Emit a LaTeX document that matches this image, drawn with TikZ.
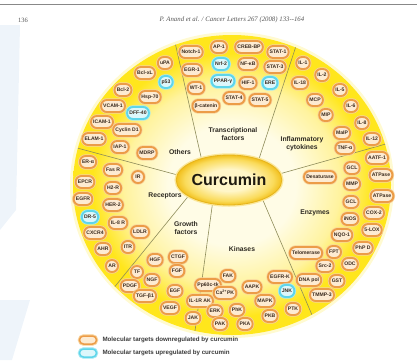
\documentclass[tikz,border=0pt]{standalone}
\usepackage{fontspec}
\setmainfont{Liberation Sans}
\newfontfamily\serffam{Liberation Serif}
\usetikzlibrary{shapes.geometric}
\definecolor{pillring}{HTML}{EC9C48}
\definecolor{pillglow}{HTML}{F8D49E}
\definecolor{pillin}{HTML}{FDEBD2}
\definecolor{cyanring}{HTML}{5ED5EA}
\definecolor{cyanglow}{HTML}{A8EAF4}
\definecolor{cyanin}{HTML}{DDF7FB}
\definecolor{pilltext}{HTML}{3A2A1E}
\definecolor{diskc}{HTML}{FFFCE6}
\definecolor{diskm}{HTML}{FFF39E}
\definecolor{diskr}{HTML}{FFE61C}
\definecolor{curc}{HTML}{FFF6C8}
\definecolor{curm}{HTML}{FADB5A}
\definecolor{curr}{HTML}{F2C01E}
\definecolor{curedge}{HTML}{E6B41C}
\definecolor{curglow}{HTML}{FBE79A}
\definecolor{curtext}{HTML}{1E1A10}
\definecolor{divline}{HTML}{8E8C5A}
\definecolor{labtext}{HTML}{2E2A22}
\definecolor{legtext}{HTML}{3A3A3A}
\definecolor{headtext}{HTML}{555555}
\definecolor{bgblue}{HTML}{EEF4FA}
\pgfdeclareradialshading{bigdisk}{\pgfpoint{0bp}{0bp}}{color(0bp)=(diskc); color(10bp)=(diskc); color(17bp)=(diskm); color(22bp)=(diskr); color(25bp)=(diskr); color(50bp)=(diskr)}
\pgfdeclareradialshading{curdisk}{\pgfpoint{0bp}{0bp}}{color(0bp)=(curc); color(11bp)=(curc); color(21bp)=(curm); color(25bp)=(curr); color(50bp)=(curr)}
\begin{document}
\begin{tikzpicture}[x=1pt,y=-1pt,
  pillbase/.style={rectangle, rounded corners=5.8pt, minimum height=12pt, minimum width=12pt,
    inner xsep=2.2pt, inner ysep=0pt, text height=3.7pt, text depth=0.3pt,
    font=\bfseries\fontsize{5.1}{5.5}\selectfont, text=pilltext},
  pill/.style={pillbase, fill=pillin, draw=pillring, line width=1.9pt,
    preaction={draw=pillglow, line width=3.4pt}},
  upill/.style={pillbase, fill=cyanin, draw=cyanring, line width=1.9pt,
    preaction={draw=cyanglow, line width=3.4pt}},
  seclabel/.style={font=\bfseries\fontsize{6.8}{7.8}\selectfont, align=center, text=labtext},
  divider/.style={draw=divline, line width=0.6pt}]
\useasboundingbox (0,0) rectangle (417,360);
% faint background watermark
\fill[bgblue] (0,25) -- (20,25) -- (16,210) -- (0,230) -- cycle;
\fill[bgblue] (0,300) -- (30,300) -- (12,360) -- (0,360) -- cycle;
% header
\coordinate (tl) at (0,4);
\coordinate (tr) at (417,4);
\draw[headtext!70, line width=0.8pt] (tl) -- (tr);
\node[font=\serffam\fontsize{6.5}{7}\selectfont, text=headtext] (pgno) at (23,20) {136};
\node[font=\serffam\itshape\fontsize{6.8}{7.5}\selectfont, text=headtext] (runhead) at (232,20) {P. Anand et al. / Cancer Letters 267 (2008) 133--164};
% big disk
\fill[diskr!40, opacity=0.5] (232,185) ellipse [x radius=162pt, y radius=153pt];
\shade[shading=bigdisk] (232,185) ellipse [x radius=159pt, y radius=150pt];
% dividers
\coordinate (a1) at (204,170); \coordinate (b1) at (174,38);
\coordinate (a2) at (256,168); \coordinate (b2) at (298,40);
\coordinate (a3) at (265,178); \coordinate (b3) at (400,140);
\coordinate (a4) at (262,198); \coordinate (b4) at (321,336);
\coordinate (a5) at (213,200); \coordinate (b5) at (194,338);
\coordinate (a6) at (195,188); \coordinate (b6) at (108,295);
\coordinate (a7) at (200,181); \coordinate (b7) at (66,145);
\begin{scope}
\clip (232,185) ellipse [x radius=159pt, y radius=150pt];
\draw[divider] (a1) -- (b1);
\draw[divider] (a2) -- (b2);
\draw[divider] (a3) -- (b3);
\draw[divider] (a4) -- (b4);
\draw[divider] (a5) -- (b5);
\draw[divider] (a6) -- (b6);
\draw[divider] (a7) -- (b7);
\end{scope}
% Curcumin
\node[ellipse, minimum width=88pt, minimum height=50pt, shade, shading=curdisk, draw=curedge,
  line width=0.8pt, inner sep=0pt, preaction={draw=curglow, line width=3.5pt},
  font=\bfseries\fontsize{16}{18}\selectfont, text=curtext] (cur) at (229,180) {Curcumin};
% sector labels
\node[seclabel] (labothers) at (180,152) {Others};
\node[seclabel] (labtf) at (233,134) {Transcriptional\\factors};
\node[seclabel] (labinf) at (302,144) {Inflammatory\\cytokines};
\node[seclabel] (labenz) at (315,213) {Enzymes};
\node[seclabel] (labkin) at (242,249) {Kinases};
\node[seclabel] (labgf) at (186,228) {Growth\\factors};
\node[seclabel] (labrec) at (165,196) {Receptors};
% Others
\node[pill] (upa) at (165,63) {uPA};
\node[pill] (bclxl) at (145,73) {Bcl-xL};
\node[upill] (p53) at (166,82) {p53};
\node[pill] (bcl2) at (123,90) {Bcl-2};
\node[pill] (hsp70) at (150,97) {Hsp-70};
\node[pill] (vcam) at (113,106) {VCAM-1};
\node[upill] (dff) at (138,113) {DFF-40};
\node[pill] (icam) at (102,122) {ICAM-1};
\node[pill] (cycd) at (127,130) {Cyclin D1};
\node[pill] (elam) at (94,139) {ELAM-1};
\node[pill] (iap) at (120,147) {IAP-1};
\node[pill] (mdrp) at (147,153) {MDRP};
% Transcriptional factors
\node[pill] (notch) at (191,52) {Notch-1};
\node[pill] (ap1) at (219,47) {AP-1};
\node[pill] (creb) at (249,47) {CREB-BP};
\node[pill] (stat1) at (278,52) {STAT-1};
\node[pill] (egr) at (192,70) {EGR-1};
\node[upill] (nrf) at (221,64) {Nrf-2};
\node[pill] (nfkb) at (248,64) {NF-κB};
\node[pill] (stat3) at (275,67) {STAT-3};
\node[pill] (wt1) at (196,88) {WT-1};
\node[upill] (ppar) at (223,81) {PPAR-γ};
\node[pill] (hif) at (248,83) {HIF-1};
\node[upill] (ere) at (270,83) {ERE};
\node[pill] (stat4) at (234,98) {STAT-4};
\node[pill] (stat5) at (260,100) {STAT-5};
\node[pill] (bcat) at (206,106) {β-catenin};
% Inflammatory cytokines
\node[pill] (il1) at (303,63) {IL-1};
\node[pill] (il2) at (322,75) {IL-2};
\node[pill] (il18) at (300,83) {IL-18};
\node[pill] (il5) at (340,90) {IL-5};
\node[pill] (mcp) at (315,100) {MCP};
\node[pill] (il6) at (351,106) {IL-6};
\node[pill] (mip) at (326,115) {MIP};
\node[pill] (il8) at (362,123) {IL-8};
\node[pill] (maip) at (342,133) {MaIP};
\node[pill] (il12) at (372,139) {IL-12};
\node[pill] (tnf) at (345,148) {TNF-α};
% Enzymes
\node[pill] (aatf) at (377,158) {AATF-1};
\node[pill] (gcl1) at (352,168) {GCL};
\node[pill] (atp1) at (381,175) {ATPase};
\node[pill] (desat) at (320,177) {Desaturase};
\node[pill] (mmp) at (352,184) {MMP};
\node[pill] (atp2) at (382,196) {ATPase};
\node[pill] (gcl2) at (351,202) {GCL};
\node[pill] (cox2) at (374,213) {COX-2};
\node[pill] (inos) at (350,219) {iNOS};
\node[pill] (lox) at (372,230) {5-LOX};
\node[pill] (nqo) at (342,235) {NQO-1};
\node[pill] (phpd) at (363,248) {PhP D};
\node[pill] (telo) at (306,253) {Telomerase};
\node[pill] (fpt) at (334,252) {FPT};
\node[pill] (src2) at (325,266) {Src-2};
\node[pill] (odc) at (350,264) {ODC};
\node[pill] (dnapol) at (309,280) {DNA pol};
\node[pill] (gst) at (337,281) {GST};
\node[pill] (tmmp) at (322,295) {TMMP-3};
% Kinases
\node[pill] (fak) at (228,276) {FAK};
\node[pill] (egfrk) at (280,277) {EGFR-K};
\node[pill] (pp60) at (208,285) {Pp60c-tk};
\node[pill] (aapk) at (252,287) {AAPK};
\node[upill] (jnk) at (287,291) {JNK};
\node[pill] (capk) at (225,293) {Ca\textsuperscript{2+}PK};
\node[pill] (il1rak) at (200,301) {IL-1R AK};
\node[pill] (mapk) at (265,301) {MAPK};
\node[pill] (ptk) at (293,309) {PTK};
\node[pill] (erk) at (215,311) {ERK};
\node[pill] (phk) at (237,310) {PhK};
\node[pill] (pkb) at (270,316) {PKB};
\node[pill] (jak) at (193,318) {JAK};
\node[pill] (pak) at (220,324) {PAK};
\node[pill] (pka) at (245,324) {PKA};
% Growth factors
\node[pill] (hgf) at (155,260) {HGF};
\node[pill] (ctgf) at (178,257) {CTGF};
\node[pill] (tf) at (137,272) {TF};
\node[pill] (fgf) at (177,271) {FGF};
\node[pill] (ngf) at (152,280) {NGF};
\node[pill] (pdgf) at (130,286) {PDGF};
\node[pill] (egf) at (175,291) {EGF};
\node[pill] (tgf) at (145,296) {TGF-β1};
\node[pill] (vegf) at (170,308) {VEGF};
% Receptors
\node[pill] (era) at (88,162) {ER-α};
\node[pill] (fasr) at (113,170) {Fas R};
\node[pill] (ir) at (138,177) {IR};
\node[pill] (epcr) at (85,182) {EPCR};
\node[pill] (h2r) at (113,188) {H2-R};
\node[pill] (egfr) at (83,199) {EGFR};
\node[pill] (her2) at (113,205) {HER-2};
\node[upill] (dr5) at (90,217) {DR-5};
\node[pill] (il8r) at (118,223) {IL-8 R};
\node[pill] (cxcr) at (95,233) {CXCR4};
\node[pill] (ldlr) at (140,232) {LDLR};
\node[pill] (ahr) at (103,249) {AHR};
\node[pill] (itr) at (128,247) {ITR};
\node[pill] (ar) at (112,266) {AR};
% legend
\node[pill, minimum width=17pt, minimum height=8pt, rounded corners=4pt, line width=1.5pt,
  preaction={draw=pillglow, line width=2.6pt}] (leg1) at (88,340) {};
\node[upill, minimum width=17pt, minimum height=8pt, rounded corners=4pt, line width=1.5pt,
  preaction={draw=cyanglow, line width=2.6pt}] (leg2) at (88,353) {};
\node[anchor=west, font=\bfseries\fontsize{6.2}{7}\selectfont, text=legtext] (legt1) at (99,340) {Molecular targets downregulated by curcumin};
\node[anchor=west, font=\bfseries\fontsize{6.2}{7}\selectfont, text=legtext] (legt2) at (99,353) {Molecular targets upregulated by curcumin};
\end{tikzpicture}
\end{document}
